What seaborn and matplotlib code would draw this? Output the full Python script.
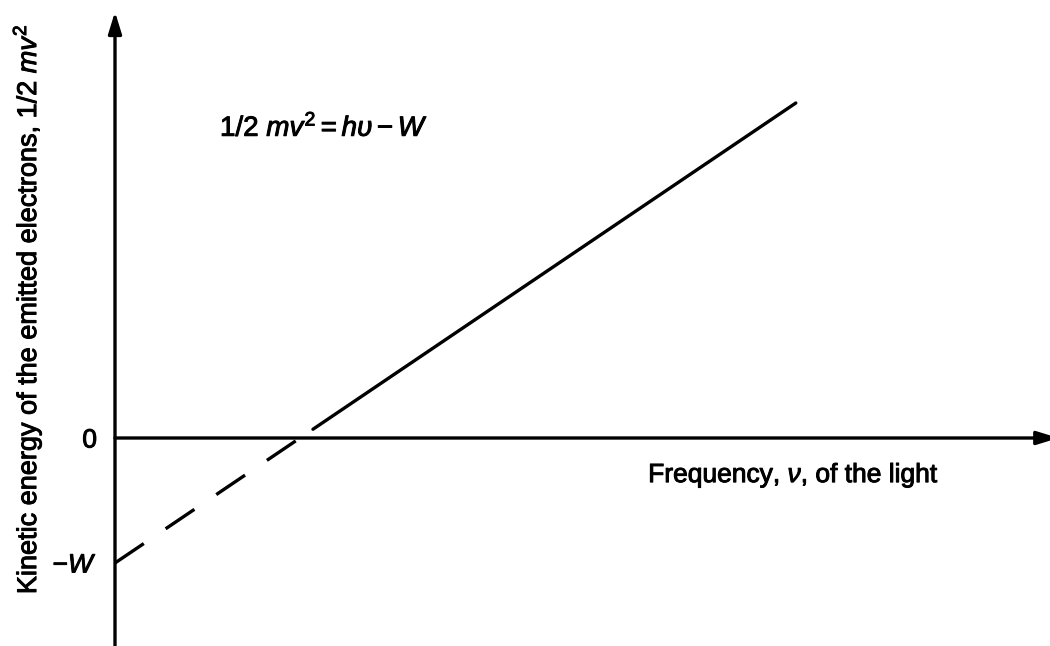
import matplotlib
matplotlib.use("Agg")
import matplotlib.pyplot as plt
import matplotlib.patheffects as pe
import seaborn as sns

# ---- data (in units: W = 1, threshold frequency nu0 = 1) ----
nu_dashed = [0.0, 1.0]          # extrapolated part (below threshold)
ke_dashed = [-1.0, 0.0]
nu_solid = [1.07, 3.68]         # measured part (above threshold)
ke_solid = [0.07, 2.68]
ytick_vals = [-1.0, 0.0]
ytick_labels = [r"$-W$", "0"]
x_label = r"Frequency, $\nu$, of the light"
y_label = r"Kinetic energy of the emitted electrons, 1/2 $mv^2$"
equation = r"1/2 $mv^2 = h\upsilon - W$"

sns.set_theme(style="white")
plt.rcParams["font.family"] = ["Liberation Sans", "DejaVu Sans"]
plt.rcParams["mathtext.fontset"] = "custom"
plt.rcParams["mathtext.rm"] = "Liberation Sans"
plt.rcParams["mathtext.it"] = "Liberation Sans:italic"
plt.rcParams["mathtext.bf"] = "Liberation Sans:bold"
plt.rcParams["lines.scale_dashes"] = False
plt.rcParams["text.color"] = "black"
plt.rcParams["axes.labelcolor"] = "black"
plt.rcParams["ytick.color"] = "black"

heavy = [pe.withStroke(linewidth=0.7, foreground="black")]

fig = plt.figure(figsize=(10.5, 6.46), dpi=100)
ax = fig.add_axes([0, 0, 1, 1])
ax.set_xlim(-0.6216, 5.054)
ax.set_ylim(-1.664, 3.504)

lw = 2.4
sns.lineplot(x=nu_solid, y=ke_solid, ax=ax, color="black", lw=lw)
sns.lineplot(x=nu_dashed, y=ke_dashed, ax=ax, color="black", lw=lw,
             linestyle=(0, (25, 19)))

# axes with arrows
for s in ax.spines.values():
    s.set_visible(False)
ax.spines["left"].set_position(("data", 0))
arrow_kw = dict(arrowstyle="-|>,head_length=0.65,head_width=0.2",
                lw=lw, color="black", mutation_scale=20, shrinkA=0, shrinkB=0)
ax.annotate("", xy=(0, 3.41), xytext=(0, -1.70), arrowprops=arrow_kw,
            annotation_clip=False)
ax.annotate("", xy=(5.10, 0), xytext=(0, 0), arrowprops=arrow_kw,
            annotation_clip=False)

ax.set_xticks([])
ax.set_yticks(ytick_vals)
ax.set_yticklabels(ytick_labels, fontsize=19)
ax.tick_params(axis="y", length=0, pad=13, left=True)
for lbl in ax.get_yticklabels():
    lbl.set_path_effects(heavy)

ax.set_ylabel(y_label, fontsize=19.5, path_effects=heavy)
ax.yaxis.set_label_coords(0.042, 0.522)
ax.set_xlabel(x_label, fontsize=19, path_effects=heavy)
ax.xaxis.set_label_coords(0.7557, 0.286)

ax.text(0.2095, 0.802, equation, transform=ax.transAxes, fontsize=20,
        ha="left", va="center", path_effects=heavy)

fig.savefig("out.png", dpi=100)
